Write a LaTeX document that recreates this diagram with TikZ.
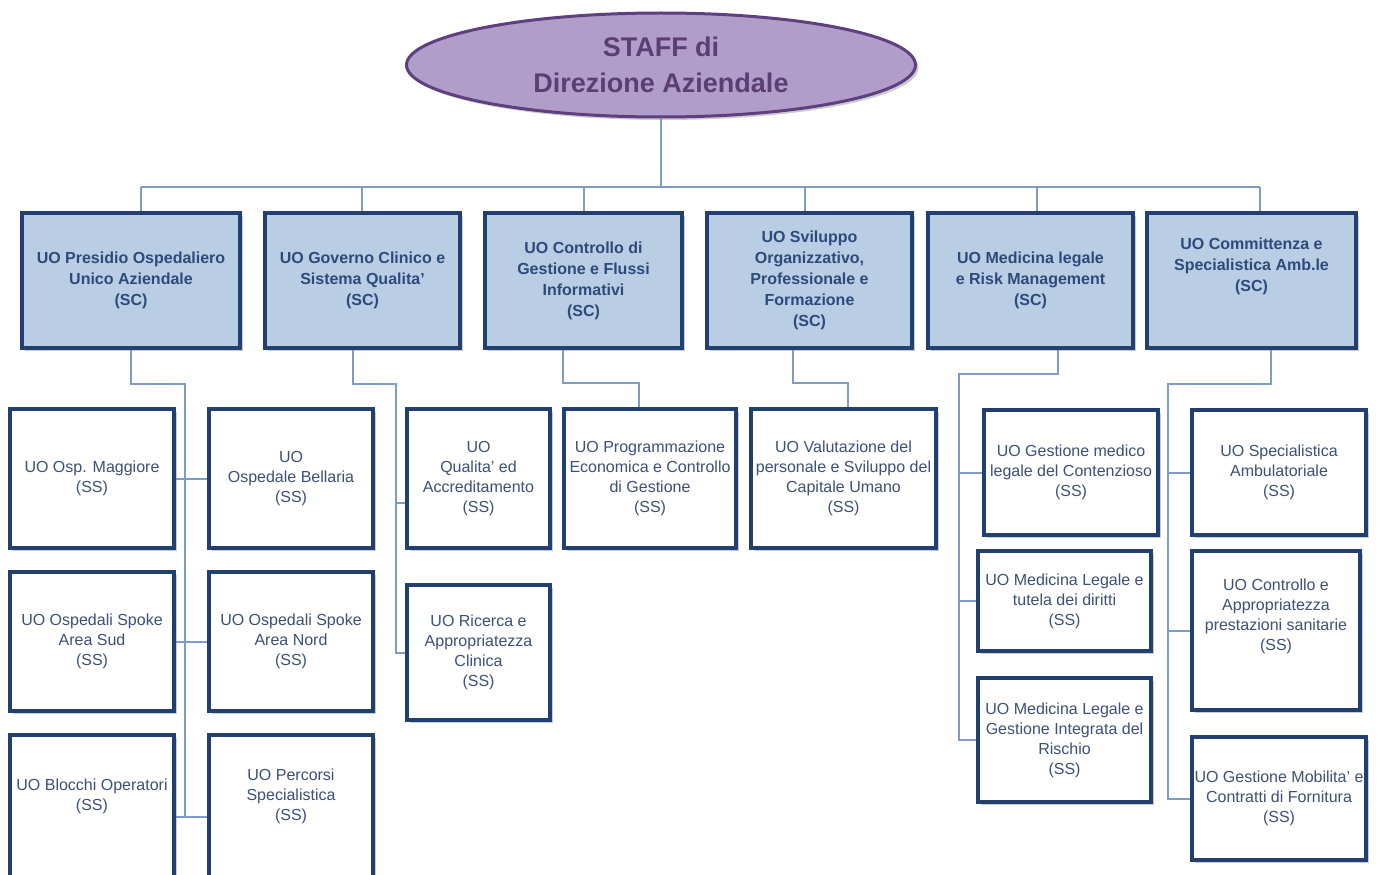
\documentclass[tikz,border=0pt]{standalone}
\usepackage{fontspec}
\setmainfont{Liberation Sans}
\usetikzlibrary{shapes.geometric,shadows}
\pgfdeclarelayer{background}
\pgfsetlayers{background,main}
\definecolor{scfill}{HTML}{B9CDE5}
\definecolor{boxline}{HTML}{213F6F}
\definecolor{sctext}{HTML}{2E4A7A}
\definecolor{sstext}{HTML}{3D5078}
\definecolor{connline}{HTML}{7E9CC6}
\definecolor{ellfill}{HTML}{B19DC9}
\definecolor{ellline}{HTML}{5E3F7F}
\definecolor{elltext}{HTML}{5A3F73}
\begin{document}
\begin{tikzpicture}[x=1pt,y=-1pt,
  shad/.style={drop shadow={shadow xshift=3pt,shadow yshift=-3pt,opacity=0.4}},
  box/.style={draw=boxline, line width=4pt, inner sep=2pt, align=center, shad},
  scbox/.style={box, fill=scfill, text=sctext, font=\fontsize{16}{21}\selectfont\bfseries},
  ssbox/.style={box, fill=white, text=sstext, font=\fontsize{16}{20}\selectfont},
  conn/.style={draw=connline, line width=2pt},
]
\useasboundingbox (0,0) rectangle (1379,875);

% top
\node[ellipse, draw=ellline, line width=3pt, fill=ellfill, minimum width=509pt, minimum height=104pt,
  text=elltext, font=\fontsize{27}{36}\selectfont\bfseries, align=center, shad] (staff) at (661,65)
  {STAFF di\\Direzione Aziendale};

% SC row
\node[scbox, minimum width=218pt, minimum height=135pt] (sc1) at (131,280.5) {UO Presidio Ospedaliero\\Unico Aziendale\\(SC)};
\node[scbox, minimum width=195pt, minimum height=135pt] (sc2) at (362.5,280.5) {UO Governo Clinico e\\Sistema Qualita'\\(SC)};
\node[scbox, minimum width=197pt, minimum height=135pt] (sc3) at (583.5,280.5) {UO Controllo di\\Gestione e Flussi\\Informativi\\(SC)};
\node[scbox, minimum width=205pt, minimum height=135pt] (sc4) at (809.5,280.5) {UO Sviluppo\\Organizzativo,\\Professionale e\\Formazione\\(SC)};
\node[scbox, minimum width=205pt, minimum height=135pt] (sc5) at (1030.5,280.5) {UO Medicina legale\\e Risk Management\\(SC)};
\node[scbox, minimum width=209pt, minimum height=135pt] (sc6) at (1251.5,280.5) {UO Committenza e\\Specialistica Amb.le\\(SC)\\[4pt]\strut};

% group 1
\node[ssbox, minimum width=164pt, minimum height=139pt] (ss11) at (92,478.5) {UO Osp. Maggiore\\(SS)};
\node[ssbox, minimum width=164pt, minimum height=139pt] (ss12) at (291,478.5) {UO\\Ospedale Bellaria\\(SS)};
\node[ssbox, minimum width=164pt, minimum height=139pt] (ss21) at (92,641.5) {UO Ospedali Spoke\\Area Sud\\(SS)};
\node[ssbox, minimum width=164pt, minimum height=139pt] (ss22) at (291,641.5) {UO Ospedali Spoke\\Area Nord\\(SS)};
\node[ssbox, minimum width=164pt, minimum height=163pt] (ss31) at (92,816.5) {UO Blocchi Operatori\\(SS)\\[17pt]\strut};
\node[ssbox, minimum width=164pt, minimum height=163pt] (ss32) at (291,816.5) {UO Percorsi\\Specialistica\\(SS)\\[17pt]\strut};

% group 2
\node[ssbox, minimum width=143pt, minimum height=139pt] (qua) at (478.5,478.5) {UO\\Qualita' ed\\Accreditamento\\(SS)};
\node[ssbox, minimum width=143pt, minimum height=135pt] (ric) at (478.5,652.5) {UO Ricerca e\\Appropriatezza\\Clinica\\(SS)};

% group 3, 4
\node[ssbox, minimum width=172pt, minimum height=139pt] (prog) at (650,478.5) {UO Programmazione\\Economica e Controllo\\di Gestione\\(SS)};
\node[ssbox, minimum width=185pt, minimum height=139pt] (valu) at (843.5,478.5) {UO Valutazione del\\personale e Sviluppo del\\Capitale Umano\\(SS)};

% group 5
\node[ssbox, minimum width=174pt, minimum height=125pt] (gm1) at (1071,472.5) {UO Gestione medico\\legale del Contenzioso\\(SS)};
\node[ssbox, minimum width=173pt, minimum height=100pt] (gm2) at (1064.5,601) {UO Medicina Legale e\\tutela dei diritti\\(SS)};
\node[ssbox, minimum width=173pt, minimum height=124pt] (gm3) at (1064.5,740) {UO Medicina Legale e\\Gestione Integrata del\\Rischio\\(SS)};

% group 6
\node[ssbox, minimum width=174pt, minimum height=125pt] (cm1) at (1279,472.5) {UO Specialistica\\Ambulatoriale\\(SS)};
\node[ssbox, minimum width=168pt, minimum height=159pt] (cm2) at (1276,630.5) {UO Controllo e\\Appropriatezza\\prestazioni sanitarie\\(SS)\\[6pt]\strut};
\node[ssbox, minimum width=174pt, minimum height=123pt] (cm3) at (1279,798.5) {UO Gestione Mobilita' e\\Contratti di Fornitura\\(SS)};

\begin{pgfonlayer}{background}
\fill[white] (0,0) rectangle (1379,875);
% top bar
\coordinate (b1) at (141,187);
\coordinate (b2) at (362,187);
\coordinate (b3) at (584,187);
\coordinate (b4) at (805,187);
\coordinate (b5) at (1037,187);
\coordinate (b6) at (1260,187);
\draw[conn] (staff.south) -- (staff.south |- b1);
\draw[conn] (b1) -- (b6);
\foreach \i in {1,...,6} { \draw[conn] (b\i) -- (b\i |- sc\i.north); }

% group 1
\coordinate (t1) at (185,384);
\draw[conn] (sc1.south) -- (sc1.south |- t1) -- (t1) -- (t1 |- ss31.east);
\draw[conn] (ss11.east) -- (ss12.west);
\draw[conn] (ss21.east) -- (ss22.west);
\draw[conn] (ss31.east) -- (ss32.west);

% group 2
\coordinate (s2) at (353,384);
\coordinate (t2) at (396,384);
\coordinate (q2) at (396,503);
\draw[conn] (s2 |- sc2.south) -- (s2) -- (t2) |- (ric.west);
\draw[conn] (q2) -- (q2 -| qua.west);

% group 3
\coordinate (s3) at (563,383);
\coordinate (e3) at (639,383);
\draw[conn] (s3 |- sc3.south) -- (s3) -- (e3) -- (e3 |- prog.north);

% group 4
\coordinate (s4) at (793,383);
\coordinate (e4) at (848,383);
\draw[conn] (s4 |- sc4.south) -- (s4) -- (e4) -- (e4 |- valu.north);

% group 5
\coordinate (s5) at (1058,374);
\coordinate (t5) at (959,374);
\draw[conn] (s5 |- sc5.south) -- (s5) -- (t5) |- (gm3.west);
\draw[conn] (t5 |- gm1.west) -- (gm1.west);
\draw[conn] (t5 |- gm2.west) -- (gm2.west);

% group 6
\coordinate (s6) at (1271,384);
\coordinate (t6) at (1168,384);
\draw[conn] (s6 |- sc6.south) -- (s6) -- (t6) |- (cm3.west);
\draw[conn] (t6 |- cm1.west) -- (cm1.west);
\draw[conn] (t6 |- cm2.west) -- (cm2.west);
\end{pgfonlayer}
\end{tikzpicture}
\end{document}
